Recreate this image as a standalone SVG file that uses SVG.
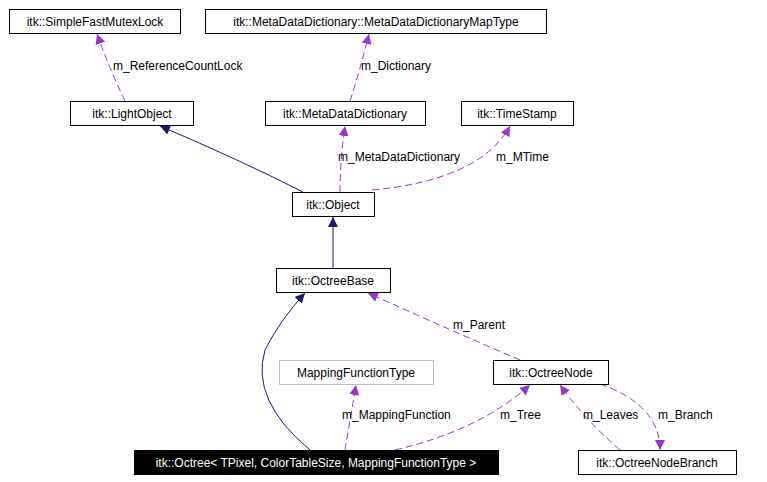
<svg xmlns="http://www.w3.org/2000/svg" width="767" height="482" viewBox="0 0 767 482">
<defs>
<style>
.n rect{fill:#fff;stroke:#000;stroke-width:1}
text{font-family:"Liberation Sans",Arial,sans-serif;font-size:12px;fill:#000}
.c{text-anchor:middle}
.d{fill:none;stroke:#9a32cd;stroke-width:1;stroke-dasharray:7,4}
.s{fill:none;stroke:#191970;stroke-width:1}
</style>
<marker id="pa" viewBox="0 0 10 10" refX="10" refY="5" markerWidth="10" markerHeight="10" orient="auto" markerUnits="userSpaceOnUse"><path d="M0,0L10,5L0,10z" fill="#9a32cd"/></marker>
<marker id="na" viewBox="0 0 10 10" refX="10" refY="5" markerWidth="10" markerHeight="10" orient="auto" markerUnits="userSpaceOnUse"><path d="M0,0L10,5L0,10z" fill="#191970"/></marker>
</defs>
<rect width="767" height="482" fill="#fff"/>
<g id="connectors">
<path class="d" d="M125,101 Q110,70 97,34" marker-end="url(#pa)"/>
<text x="113" y="70">m_ReferenceCountLock</text>
<path class="d" d="M350,101 Q360,70 369,34" marker-end="url(#pa)"/>
<text x="361" y="70">m_Dictionary</text>
<path class="s" d="M303,192 Q240,160 160,126" marker-end="url(#na)"/>
<path class="d" d="M340,192 Q340,160 345,126" marker-end="url(#pa)"/>
<text x="338" y="161">m_MetaDataDictionary</text>
<path class="d" d="M372,190 Q480,180 510,126" marker-end="url(#pa)"/>
<text x="496" y="161">m_MTime</text>
<path class="s" d="M333,268 L333,217" marker-end="url(#na)"/>
<path class="s" d="M310,450 Q250,400 265,350 Q280,320 305,293" marker-end="url(#na)"/>
<path class="d" d="M520,360 Q450,330 368,293" marker-end="url(#pa)"/>
<text x="453" y="329">m_Parent</text>
<path class="d" d="M345,450 Q350,420 356,385" marker-end="url(#pa)"/>
<text x="342" y="419">m_MappingFunction</text>
<path class="d" d="M395,450 Q480,430 530,385" marker-end="url(#pa)"/>
<text x="500" y="419">m_Tree</text>
<path class="d" d="M620,450 Q585,420 560,385" marker-end="url(#pa)"/>
<text x="583" y="419">m_Leaves</text>
<path class="d" d="M600,384 Q660,405 660,450" marker-end="url(#pa)"/>
<text x="658" y="419">m_Branch</text>
</g>
<g id="mutex" class="n"><rect x="9.5" y="9.5" width="171" height="24"/><text class="c" x="95" y="26">itk::SimpleFastMutexLock</text></g>
<g id="maptype" class="n"><rect x="205.5" y="9.5" width="341" height="24"/><text class="c" x="376" y="26">itk::MetaDataDictionary::MetaDataDictionaryMapType</text></g>
<g id="lightobject" class="n"><rect x="70.5" y="101.5" width="123" height="24"/><text class="c" x="132" y="118">itk::LightObject</text></g>
<g id="mdd" class="n"><rect x="265.5" y="101.5" width="160" height="24"/><text class="c" x="345" y="118">itk::MetaDataDictionary</text></g>
<g id="timestamp" class="n"><rect x="461.5" y="101.5" width="112" height="24"/><text class="c" x="517" y="118">itk::TimeStamp</text></g>
<g id="object" class="n"><rect x="292.5" y="192.5" width="82" height="24"/><text class="c" x="333" y="209">itk::Object</text></g>
<g id="octreebase" class="n"><rect x="276.5" y="268.5" width="114" height="24"/><text class="c" x="333" y="285">itk::OctreeBase</text></g>
<g id="mft" class="n"><rect x="279.5" y="360.5" width="154" height="24" style="stroke:#bfbfbf"/><text class="c" x="356" y="377">MappingFunctionType</text></g>
<g id="octreenode" class="n"><rect x="493.5" y="360.5" width="115" height="24"/><text class="c" x="551" y="377">itk::OctreeNode</text></g>
<g id="octree"><rect x="134.5" y="450.5" width="364" height="24" fill="#000" stroke="#000"/><text class="c" x="316" y="467" style="fill:#fff">itk::Octree&lt; TPixel, ColorTableSize, MappingFunctionType &gt;</text></g>
<g id="branch" class="n"><rect x="578.5" y="450.5" width="158" height="24"/><text class="c" x="657" y="467">itk::OctreeNodeBranch</text></g>
</svg>
